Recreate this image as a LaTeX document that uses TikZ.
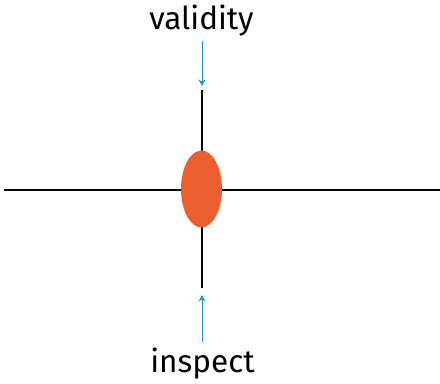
\documentclass[tikz,border=0pt]{standalone}
\usepackage{fontspec}
\setmainfont{Fira Sans}
\usetikzlibrary{arrows.meta,shapes.geometric}
\definecolor{dotorange}{RGB}{234,94,48}
\definecolor{arrowblue}{RGB}{30,150,215}
\tikzset{
  axis/.style={draw=black,line width=1.1bp},
  lbl/.style={font=\fontsize{31.5bp}{36bp}\selectfont,text=black,inner sep=0pt},
  pointer/.style={draw=arrowblue,line width=0.9bp,-{Stealth[length=6.5bp,width=7bp,inset=2bp]}},
  dot/.style={ellipse,fill=dotorange,minimum width=41bp,minimum height=77bp,inner sep=0pt}
}
\begin{document}
\begin{tikzpicture}[x=1bp,y=-1bp]
\useasboundingbox (0,0) rectangle (440,383);
\coordinate (L) at (4,190);
\coordinate (R) at (440,190);
\coordinate (T) at (202,90);
\coordinate (B) at (202,288);
\coordinate (tt) at (202,86);
\coordinate (bt) at (202,295);
\draw[axis] (L) -- (R);
\draw[axis] (T) -- (B);
\node[dot] (d) at (201.5,189) {};
\node[lbl,anchor=base] (v) at (201.5,29) {validity};
\node[lbl,anchor=base] (i) at (202.5,372) {inspect};
\draw[pointer] (202,41) -- (tt);
\draw[pointer] (202,342) -- (bt);
\end{tikzpicture}
\end{document}
